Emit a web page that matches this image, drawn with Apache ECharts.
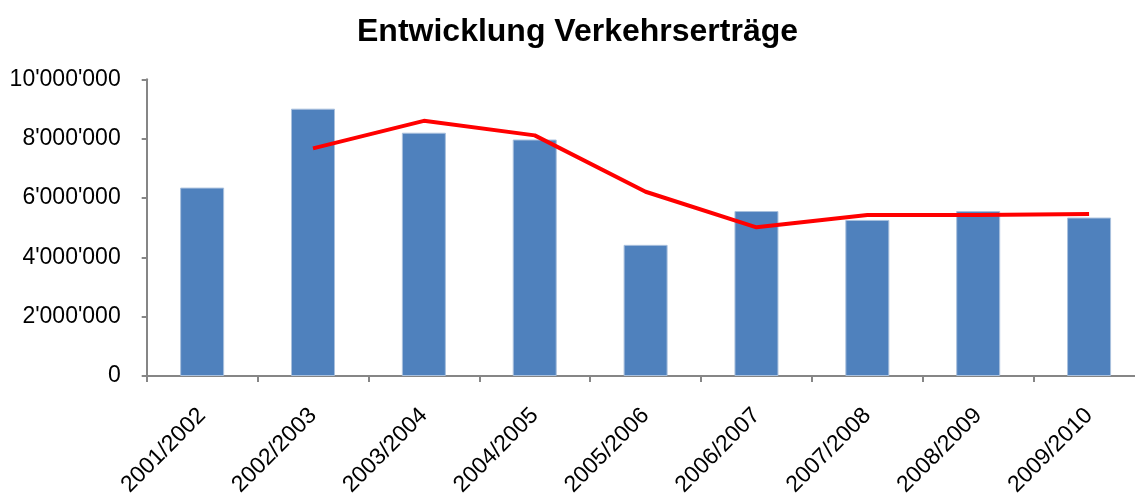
<!DOCTYPE html>
<html>
<head>
<meta charset="utf-8">
<script src="https://cdn.jsdelivr.net/npm/echarts@6/dist/echarts.min.js"></script>
<style>
html,body{margin:0;padding:0;background:#fff;}
#chart{width:1135px;height:495px;}
</style>
</head>
<body>
<div id="chart"></div>
<script>
const categories = ['2001/2002','2002/2003','2003/2004','2004/2005','2005/2006','2006/2007','2007/2008','2008/2009','2009/2010'];
const ertraege = [6350000, 9010000, 8200000, 7970000, 4420000, 5560000, 5260000, 5560000, 5340000];
const trend = [null, 7670000, 8600000, 8110000, 6210000, 5010000, 5430000, 5430000, 5460000];
const yTicks = { min: 0, max: 10000000, interval: 2000000 };

function fmt(v){
  return String(Math.round(v)).replace(/\B(?=(\d{3})+(?!\d))/g, "'");
}

const chart = echarts.init(document.getElementById('chart'), null, {renderer:'canvas'});
chart.setOption({
  animation: false,
  backgroundColor: '#ffffff',
  title: {
    text: 'Entwicklung Verkehrserträge',
    left: 352,
    top: 11,
    textStyle: { fontFamily: 'Liberation Sans', fontWeight: 'bold', fontSize: 32, color: '#000' }
  },
  grid: { left: 146.7, top: 79.3, bottom: 119, right: -9.5, containLabel: false, outerBoundsMode: 'none' },
  xAxis: {
    type: 'category',
    data: categories,
    boundaryGap: true,
    axisLine: { lineStyle: { color: '#868686', width: 2 } },
    axisTick: { show: true, alignWithLabel: false, length: 6, lineStyle: { color: '#868686', width: 2 } },
    axisLabel: { rotate: 45, fontFamily: 'Liberation Sans', fontSize: 23, color: '#000', margin: 36, interval: 0 }
  },
  yAxis: {
    type: 'value',
    min: yTicks.min, max: yTicks.max, interval: yTicks.interval,
    axisLine: { show: true, lineStyle: { color: '#868686', width: 2 } },
    axisTick: { show: true, length: 5, lineStyle: { color: '#868686', width: 2 } },
    splitLine: { show: false },
    axisLabel: { formatter: fmt, fontFamily: 'Liberation Sans', fontSize: 23, color: '#000', margin: 26 }
  },
  series: [
    {
      type: 'bar',
      data: ertraege,
      barWidth: 44,
      itemStyle: { color: '#4F81BD', borderColor: '#a9c0dd', borderWidth: 1 }
    },
    {
      type: 'line',
      data: trend,
      showSymbol: false,
      symbol: 'none',
      connectNulls: false,
      lineStyle: { color: '#FF0000', width: 4 },
      z: 5
    }
  ]
});
</script>
</body>
</html>
